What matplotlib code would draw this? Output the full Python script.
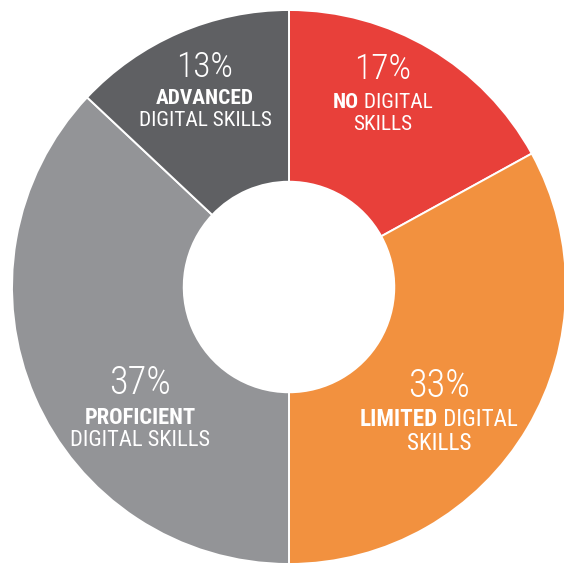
import matplotlib
matplotlib.use("Agg")
import matplotlib.pyplot as plt
from matplotlib import font_manager
from matplotlib.offsetbox import TextArea, HPacker, AnnotationBbox

# data
categories = ["No digital skills", "Limited digital skills",
              "Proficient digital skills", "Advanced digital skills"]
shares = [17, 33, 37, 13]
colors = ["#E8403A", "#F2913F", "#939497", "#5F6063"]
bold_words = ["NO", "LIMITED", "PROFICIENT", "ADVANCED"]
line1_rest = [" DIGITAL", " DIGITAL", "", ""]
line2 = ["SKILLS", "SKILLS", "DIGITAL SKILLS", "DIGITAL SKILLS"]

# label layout in pixels from top-left: x, y of percent, y of row 1, y of row 2
label_px = [(383, 69, 102.5, 124.5), (439, 386, 419.5, 443),
            (140, 383, 418.5, 440), (205, 67, 99, 121)]
pct_sizes = [25.5, 27.5, 27.5, 25.5]
txt_sizes = [15.4, 16.6, 16.2, 15.4]

installed = {f.name for f in font_manager.fontManager.ttflist}
if "Roboto Condensed" in installed:
    FONT = ["Roboto Condensed", "DejaVu Sans"]
    k = 1.0
else:
    FONT = ["Barlow Condensed", "DejaVu Sans"]
    k = 1.2

fig = plt.figure(figsize=(5.64, 5.64), dpi=100)
ax = fig.add_axes([0, 0, 1, 1])
ax.pie(shares, colors=colors, startangle=90, counterclock=False, radius=1,
       wedgeprops=dict(width=0.62, edgecolor="white", linewidth=1.4))

cx, cy, r = 289, 287, 277
ax.set_xlim((0 - cx) / r, (564 - cx) / r)
ax.set_ylim((cy - 564) / r, (cy - 0) / r)
ax.set_aspect("equal")
ax.axis("off")


def to_data(px, py):
    return (px - cx) / r, (cy - py) / r


def put(box, px, py):
    ab = AnnotationBbox(box, to_data(px, py), frameon=False,
                        box_alignment=(0.5, 0.5), pad=0)
    ax.add_artist(ab)


for i in range(len(shares)):
    px, y0, y1, y2 = label_px[i]
    ts = txt_sizes[i] * k
    pct = TextArea(f"{shares[i]}%", textprops=dict(
        color="white", fontsize=pct_sizes[i] * k, family=FONT, fontweight=300))
    put(pct, px, y0)

    parts = [TextArea(bold_words[i], textprops=dict(
        color="white", fontsize=ts, family=FONT, fontweight="bold"))]
    if line1_rest[i]:
        parts.append(TextArea(line1_rest[i], textprops=dict(
            color="white", fontsize=ts, family=FONT, fontweight=400)))
    put(HPacker(children=parts, pad=0, sep=0, align="baseline"), px, y1)

    row2 = TextArea(line2[i], textprops=dict(
        color="white", fontsize=ts, family=FONT, fontweight=400))
    put(row2, px, y2)

fig.savefig("out.png", dpi=100, facecolor="white")
